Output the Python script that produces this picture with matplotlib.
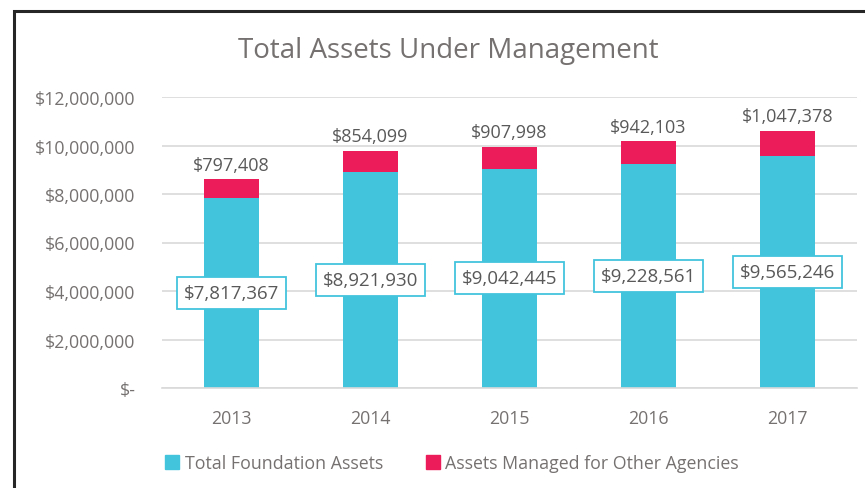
from matplotlib import pyplot as plt
from matplotlib.patches import Rectangle
from matplotlib.ticker import FuncFormatter
import numpy as np

years = ['2013', '2014', '2015', '2016', '2017']
foundation = [7817367, 8921930, 9042445, 9228561, 9565246]
other_agencies = [797408, 854099, 907998, 942103, 1047378]

CYAN = '#42C4DD'
RED = '#EC1B5A'
GRAY = '#767171'

plt.rcParams['font.family'] = ['Open Sans', 'DejaVu Sans']

W, H = 865, 489
fig = plt.figure(figsize=(W / 100, H / 100), dpi=100)

# frame of the chart object
fig.patches.append(Rectangle((14 / W, -0.1), 1.2, 1 - 12 / H + 0.1,
                             transform=fig.transFigure, fill=False,
                             edgecolor='#262626', linewidth=2.2))

ax = fig.add_axes([162 / W, 1 - 389 / H, (857 - 162) / W, (389 - 98) / H])

x = np.arange(len(years))
ax.bar(x, foundation, width=0.4, color=CYAN, zorder=2)
ax.bar(x, other_agencies, width=0.4, bottom=foundation, color=RED, zorder=2)

ax.set_xlim(-0.5, len(years) - 0.5)
ax.set_ylim(0, 12000000)
ax.set_yticks(np.arange(0, 12000001, 2000000))
ax.yaxis.set_major_formatter(FuncFormatter(
    lambda v, p: '$-' if v == 0 else '${:,.0f}'.format(v)))
ax.set_xticks(x)
ax.set_xticklabels(years)
ax.grid(axis='y', color='#D9D9D9', linewidth=1.2, zorder=0)
ax.set_axisbelow(True)
for s in ['top', 'right', 'left']:
    ax.spines[s].set_visible(False)
ax.spines['bottom'].set_color('#D9D9D9')
ax.spines['bottom'].set_linewidth(1.2)
ax.tick_params(length=0, labelsize=12.8, labelcolor=GRAY)
ax.tick_params(axis='y', pad=19)
ax.tick_params(axis='x', pad=15)

for i in range(len(years)):
    ax.text(x[i], foundation[i] / 2, '${:,.0f}'.format(foundation[i]),
            ha='center', va='center', fontsize=13.5, color='#595959', zorder=4,
            bbox=dict(boxstyle='square,pad=0.38', facecolor='white',
                      edgecolor=CYAN, linewidth=1.3))
    top = foundation[i] + other_agencies[i]
    ax.annotate('${:,.0f}'.format(other_agencies[i]), (x[i], top),
                xytext=(0, 4), textcoords='offset points',
                ha='center', va='bottom', fontsize=13, color='#595959')

fig.text(448 / W, 1 - 51 / H, 'Total Assets Under Management',
         ha='center', va='center', fontsize=20, color=GRAY)

handles = [Rectangle((0, 0), 1, 1, color=CYAN), Rectangle((0, 0), 1, 1, color=RED)]
fig.legend(handles, ['Total Foundation Assets', 'Assets Managed for Other Agencies'],
           loc='center', bbox_to_anchor=(452 / W, 1 - 464 / H), ncol=2,
           frameon=False, fontsize=12.8, labelcolor=GRAY, handlelength=0.8,
           handleheight=0.8, handletextpad=0.3, columnspacing=2.4)

fig.savefig('out.png', dpi=100)
plt.close(fig)
